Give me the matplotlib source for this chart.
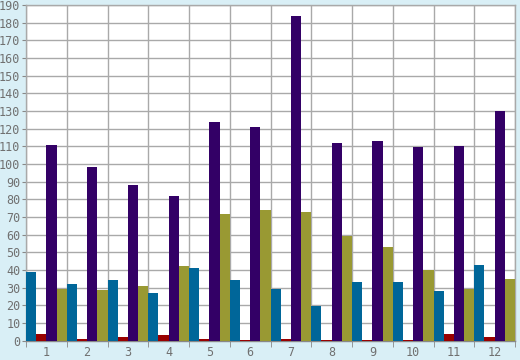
import numpy as np
import matplotlib.pyplot as plt

categories = ["1", "2", "3", "4", "5", "6", "7", "8", "9", "10", "11", "12"]
blue = [39, 32, 34, 27, 41, 34, 29, 19.5, 33, 33, 28, 43]
red = [3.5, 1, 2, 3, 1, 0.5, 1, 0.5, 0.5, 0.5, 3.5, 2]
purple = [110.5, 98, 88, 82, 123.5, 121, 184, 112, 113, 109.5, 110, 130]
olive = [29, 28.5, 31, 42, 71.5, 74, 73, 59, 53, 40, 29, 35]

series = [blue, red, purple, olive]
colors = ["#006699", "#990000", "#330066", "#999933"]

fig = plt.figure(figsize=(5.2, 3.6), dpi=100, facecolor="#d9eff6")
ax = fig.add_axes([26 / 520, 19.5 / 360, 489 / 520, 335.5 / 360])
ax.set_facecolor("white")

x = np.arange(1, len(categories) + 1)
w = 0.25
for i, (vals, c) in enumerate(zip(series, colors)):
    ax.bar(x + (i - 1.5) * w, vals, width=w, color=c, zorder=3)

ax.set_xlim(0.5, 12.5)
ax.set_ylim(0, 190)
ax.set_yticks(np.arange(0, 191, 10))
ax.set_xticks(x)
ax.set_xticklabels(categories)
ax.set_xticks(np.arange(0.5, 12.6, 1), minor=True)

ax.grid(True, which="minor", axis="x", color="#a9a9a9", lw=1, zorder=0)
ax.grid(True, which="major", axis="y", color="#a9a9a9", lw=1, zorder=0)

ax.tick_params(axis="x", which="major", length=0, pad=4)
ax.tick_params(axis="x", which="minor", length=4, color="#888888")
ax.tick_params(axis="y", length=3, color="#888888", pad=1)
for lab in ax.get_xticklabels() + ax.get_yticklabels():
    lab.set_family("DejaVu Sans Mono")
    lab.set_fontsize(8.5)
    lab.set_color("#707070")

for s in ax.spines.values():
    s.set_color("#a9a9a9")
    s.set_linewidth(1)
ax.spines["bottom"].set_color("#888888")

fig.savefig("out.png", dpi=100, facecolor=fig.get_facecolor())
